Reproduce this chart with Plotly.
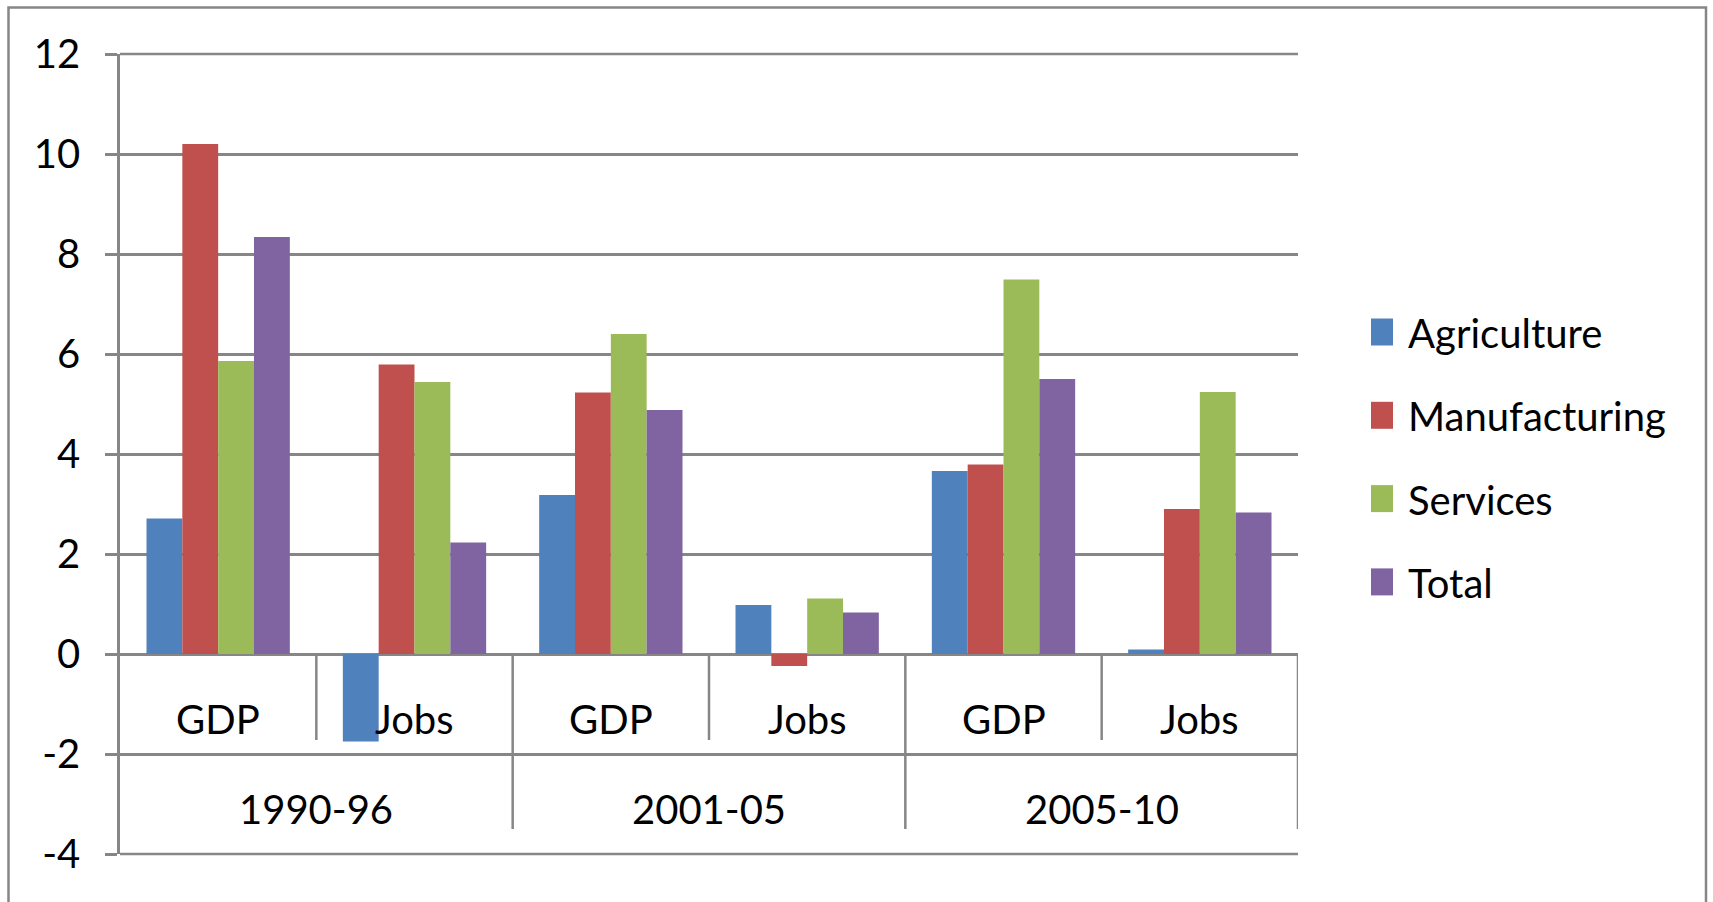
import plotly.graph_objects as go

# Growth rates (%) by sector, for GDP and jobs, in three periods
periods = ["1990-96", "2001-05", "2005-10"]
measures = ["GDP", "Jobs"]
series_names = ["Agriculture", "Manufacturing", "Services", "Total"]
agriculture = [2.71, -1.75, 3.18, 0.98, 3.66, 0.09]
manufacturing = [10.2, 5.79, 5.23, -0.24, 3.79, 2.9]
services = [5.86, 5.44, 6.4, 1.11, 7.49, 5.24]
total = [8.34, 2.23, 4.88, 0.83, 5.5, 2.83]
y_ticks = [-4, -2, 0, 2, 4, 6, 8, 10, 12]
y_tick_labels = ["-4", "-2", "0", "2", "4", "6", "8", "10", "12"]

colors = ["#4F81BD", "#C0504D", "#9BBB59", "#8064A2"]
GRID = "#868686"
FONT = "Lato"
FS = 40

W, H = 1713, 902
ML, MR, MT, MB = 120, 415, 54, 48
PW, PH = W - ML - MR, H - MT - MB


def px_x(px):
    return (px - ML) / PW


def px_y(py):
    return (H - MB - py) / PH


x_pos = list(range(len(periods) * len(measures)))
series_values = [agriculture, manufacturing, services, total]
n_cat = len(x_pos)

fig = go.Figure()
for name, vals, col in zip(series_names, series_values, colors):
    fig.add_trace(go.Bar(
        x=x_pos, y=vals, name=name,
        marker=dict(color=col, line=dict(width=0)),
        showlegend=False,
    ))

shapes = []
annotations = []

# gridlines on the top and bottom edges of the plot area
for yp in (0, 1):
    shapes.append(dict(
        type="line", xref="paper", yref="paper", x0=0, x1=1,
        y0=yp, y1=yp, line=dict(color=GRID, width=2.5), layer="below",
    ))

# category table below the zero line
for i, x in enumerate(x_pos):
    annotations.append(dict(
        x=x, y=-1.29, xref="x", yref="y", text=measures[i % len(measures)],
        showarrow=False, font=dict(family=FONT, size=FS, color="black"),
        xanchor="center", yanchor="middle",
    ))
for p, period in enumerate(periods):
    annotations.append(dict(
        x=p * len(measures) + (len(measures) - 1) / 2, y=-3.09,
        xref="x", yref="y", text=period, showarrow=False,
        font=dict(family=FONT, size=FS, color="black"),
        xanchor="center", yanchor="middle",
    ))

for k in range(1, n_cat + 1):
    xb = k - 0.5
    outer = (k % len(measures) == 0)
    shapes.append(dict(
        type="line", xref="x", yref="y", x0=xb, x1=xb,
        y0=0, y1=-3.5 if outer else -1.72,
        line=dict(color=GRID, width=2.5), layer="below",
    ))

# legend
row0, row_step = 332, 83.3
for j, (name, col) in enumerate(zip(series_names, colors)):
    cy = row0 + j * row_step
    shapes.append(dict(
        type="rect", xref="paper", yref="paper",
        x0=px_x(1371), x1=px_x(1393), y0=px_y(cy + 13.5), y1=px_y(cy - 13.5),
        fillcolor=col, line=dict(width=0),
    ))
    annotations.append(dict(
        x=px_x(1406), y=px_y(cy + 1), xref="paper", yref="paper", text=name,
        showarrow=False, font=dict(family=FONT, size=FS, color="black"),
        xanchor="left", yanchor="middle",
    ))

# chart border
shapes.append(dict(
    type="rect", xref="paper", yref="paper",
    x0=px_x(8.5), x1=px_x(1706), y0=px_y(910), y1=px_y(7.5),
    line=dict(color=GRID, width=2.5), fillcolor="rgba(0,0,0,0)", layer="below",
))

fig.update_layout(
    width=W, height=H,
    margin=dict(l=ML, r=MR, t=MT, b=MB, pad=0),
    paper_bgcolor="white", plot_bgcolor="white",
    barmode="group", bargap=0.27, bargroupgap=0,
    font=dict(family=FONT, size=FS, color="black"),
    shapes=shapes, annotations=annotations,
    xaxis=dict(range=[-0.5, n_cat - 0.5], showgrid=False, zeroline=False,
               showticklabels=False, showline=False, ticks=""),
    yaxis=dict(range=[-4, 12], tickvals=y_ticks, ticktext=y_tick_labels,
               showgrid=True, gridcolor=GRID, gridwidth=2.5,
               zeroline=False, showline=True, linecolor=GRID, linewidth=2.5,
               ticks="outside", ticklen=12, tickwidth=2.5, tickcolor=GRID,
               ticklabelstandoff=17,
               tickfont=dict(family=FONT, size=FS, color="black")),
)

fig.write_html("out.html")
